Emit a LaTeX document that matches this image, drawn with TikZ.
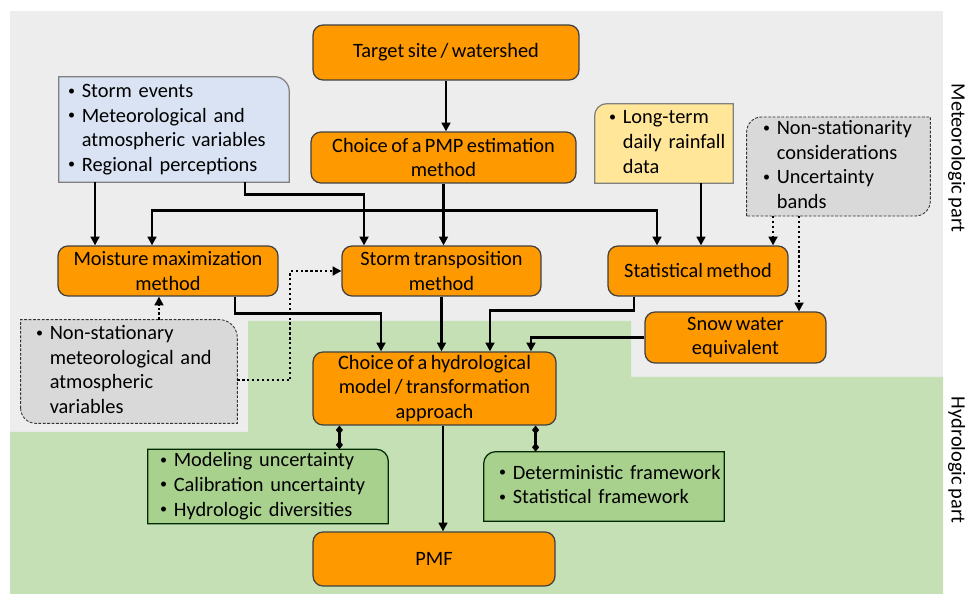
\documentclass[tikz,border=0pt]{standalone}
\usepackage{fontspec}
\setmainfont[WordSpace=0.75]{Carlito}
\usetikzlibrary{arrows.meta,backgrounds}

\definecolor{graybg}{HTML}{EDEDED}
\definecolor{greenbg}{HTML}{C5E0B4}
\definecolor{orangebox}{HTML}{FF9900}
\definecolor{bluebox}{HTML}{DAE3F3}
\definecolor{yellowbox}{HTML}{FFE699}
\definecolor{graybox}{HTML}{D9D9D9}
\definecolor{greenbox}{HTML}{A9D18E}

\newcommand*{\bul}{\raisebox{0.25ex}{\fontsize{8}{8}\selectfont\textbullet}}

\tikzset{
  every node/.style={font=\fontsize{11.6}{14}\selectfont},
  stepbox/.style={draw=black!75,fill=orangebox,rounded corners=0.2cm,line width=0.7pt,
    align=center,inner sep=0pt},
  listbox/.style={inner ysep=0pt,align=left},
  arr/.style={line width=1.5pt,-{Triangle[length=5pt,width=5pt]}},
  darr/.style={line width=1.3pt,dash pattern=on 1.3pt off 1.5pt,-{Triangle[length=5pt,width=5pt]}},
  tie/.style={line width=1.5pt,{Diamond[length=5pt,width=4pt]}-{Diamond[length=5pt,width=4pt]}},
  solidline/.style={draw=black!50,line width=0.7pt},
  dashline/.style={draw=black!80,line width=0.5pt,dash pattern=on 1.6pt off 0.9pt},
}

\begin{document}
\begin{tikzpicture}[x=0.02cm,y=-0.02cm]
    \useasboundingbox (0,0) rectangle (965,594);

    % main steps
    \node[stepbox,minimum width=5.32cm,minimum height=1.1cm] (target) at (446,52.5) {Target site / watershed};
    \node[stepbox,minimum width=5.3cm,minimum height=1.02cm] (pmp) at (443.5,157.5) {Choice of a PMP estimation\\method};
    \node[stepbox,minimum width=4.4cm,minimum height=1.0cm] (moist) at (168,271) {Moisture maximization\\method};
    \node[stepbox,minimum width=3.98cm,minimum height=1.0cm] (storm) at (441.5,271) {Storm transposition\\method};
    \node[stepbox,minimum width=3.6cm,minimum height=1.0cm] (stat) at (698,271) {Statistical method};
    \node[stepbox,minimum width=3.62cm,minimum height=1.02cm] (snow) at (735.5,337.5) {Snow water\\equivalent};
    \node[stepbox,minimum width=4.86cm,minimum height=1.46cm] (hydro) at (434.5,388.5) {Choice of a hydrological\\model / transformation\\approach};
    \node[stepbox,minimum width=4.84cm,minimum height=1.08cm] (pmf) at (434,559) {PMF};

    % lists
    \node[listbox,inner xsep=0.18cm,text width=4.24cm,minimum height=2.1cm] (blue) at (174,129.5)
        {\begin{tabular}{@{}l@{\ }l@{}}\bul & Storm events\\ \bul & Meteorological and\\ & atmospheric variables\\ \bul & Regional perceptions\end{tabular}};
    \node[listbox,inner xsep=0.28cm,text width=2.2cm,minimum height=1.58cm] (yellow) at (664,143.5)
        {\begin{tabular}{@{}l@{\ }l@{}}\bul & Long-term\\ & daily rainfall\\ & data\end{tabular}};
    \node[listbox,inner xsep=0.32cm,text width=3.02cm,minimum height=1.94cm] (unc) at (838.5,166.5)
        {\begin{tabular}{@{}l@{\ }l@{}}\bul & Non-stationarity\\ & considerations\\ \bul & Uncertainty\\ & bands\end{tabular}};
    \node[listbox,inner xsep=0.3cm,text width=3.72cm,minimum height=2.06cm] (nonst) at (129,371.5)
        {\begin{tabular}{@{}l@{\ }l@{}}\bul & Non-stationary\\ & meteorological and\\ & atmospheric\\ & variables\end{tabular}};
    \node[listbox,inner xsep=0.24cm,text width=4.32cm,minimum height=1.38cm] (g1) at (268,486.5)
        {\begin{tabular}{@{}l@{\ }l@{}}\bul & Modeling uncertainty\\ \bul & Calibration uncertainty\\ \bul & Hydrologic diversities\end{tabular}};
    \node[listbox,inner xsep=0.3cm,text width=4.2cm,minimum height=1.38cm] (g2) at (604,486.5)
        {\begin{tabular}{@{}l@{\ }l@{}}\bul & Deterministic framework\\ \bul & Statistical framework\end{tabular}};

    \node[rotate=-90] (meteo) at (957,158) {Meteorologic part};
    \node[rotate=-90] (hydrol) at (957,460) {Hydrologic part};

    % connectors
    \draw[arr] (target.south) -- (target.south |- pmp.north);
    \draw[arr] (pmp.south) -- (pmp.south |- storm.north);
    \draw[arr] ([yshift=-0.54cm]pmp.south) -| ([xshift=-0.32cm]moist.north);
    \draw[arr] ([yshift=-0.54cm]pmp.south) -| ([xshift=-0.82cm]stat.north);
    \draw[arr] ([xshift=-1.58cm]blue.south) -- ([xshift=-1.58cm]blue.south |- moist.north);
    \draw[arr] ([xshift=1.42cm]blue.south) -- ++(0,12) -| ([xshift=-1.55cm]storm.north);
    \draw[arr] ([xshift=0.74cm]yellow.south) -- ([xshift=0.74cm]yellow.south |- stat.north);
    \draw[darr] ([xshift=-1.31cm]unc.south) -- ([xshift=-1.31cm]unc.south |- stat.north);
    \draw[darr] ([xshift=-0.79cm]unc.south) -- ([xshift=-0.79cm]unc.south |- snow.north);
    \draw[darr] ([xshift=0.6cm]nonst.north) -- ([xshift=0.6cm]nonst.north |- moist.south);
    \draw[darr] ([yshift=-0.17cm]nonst.east) -- ++(53,0) |- (storm.west);
    \draw[arr] ([xshift=1.34cm]moist.south) -- ++(0,17) -| ([xshift=-1.07cm]hydro.north);
    \draw[arr] (storm.south) -- (storm.south |- hydro.north);
    \draw[arr] ([xshift=-1.28cm]stat.south) -- ++(0,14) -| ([xshift=1.11cm]hydro.north);
    \draw[arr] (snow.west) -| ([xshift=1.93cm]hydro.north);
    \draw[arr] ([xshift=0.17cm]hydro.south) -- ([xshift=0.17cm]hydro.south |- pmf.north);
    \draw[tie] ([xshift=0.54cm]hydro.south west) -- ([xshift=0.54cm]hydro.south west |- g1.north);
    \draw[tie] ([xshift=-0.42cm]hydro.south east) -- ([xshift=-0.42cm]hydro.south east |- g2.north);

    \begin{pgfonlayer}{background}
    % parts
    \fill[graybg] (10,11) rectangle (943,594);
    \fill[greenbg] (10,432) -- (248,432) -- (248,321) -- (631,321) -- (631,377) -- (943,377) -- (943,594) -- (10,594) -- cycle;

    % list boxes
    \filldraw[solidline,fill=bluebox] (blue.south west) -- (blue.north west) -- ([xshift=-0.3cm]blue.north east)
        arc[start angle=90,end angle=0,radius=0.3cm] -- (blue.south east) -- cycle;
    \filldraw[solidline,fill=yellowbox] (yellow.south west) -- ([yshift=-0.24cm]yellow.north west)
        arc[start angle=180,end angle=90,radius=0.24cm] -- (yellow.north east) -- (yellow.south east) -- cycle;
    \filldraw[dashline,fill=graybox] (unc.south west) -- ([yshift=-0.3cm]unc.north west)
        arc[start angle=180,end angle=90,radius=0.3cm] -- (unc.north east) -- ([yshift=0.3cm]unc.south east)
        arc[start angle=0,end angle=-90,radius=0.3cm] -- cycle;
    \filldraw[dashline,fill=graybox] ([yshift=0.3cm]nonst.south west) -- (nonst.north west) -- ([xshift=-0.36cm]nonst.north east)
        arc[start angle=90,end angle=0,radius=0.36cm] -- (nonst.south east) -- ([xshift=0.3cm]nonst.south west)
        arc[start angle=270,end angle=180,radius=0.3cm] -- cycle;
    \filldraw[solidline,draw=black!60!green!40!black,fill=greenbox] (g1.south west) -- (g1.north west) -- ([xshift=-0.24cm]g1.north east)
        arc[start angle=90,end angle=0,radius=0.24cm] -- (g1.south east) -- cycle;
    \filldraw[solidline,draw=black!60!green!40!black,fill=greenbox] (g2.south west) -- ([yshift=-0.24cm]g2.north west)
        arc[start angle=180,end angle=90,radius=0.24cm] -- (g2.north east) -- (g2.south east) -- cycle;
    \end{pgfonlayer}

\end{tikzpicture}
\end{document}
